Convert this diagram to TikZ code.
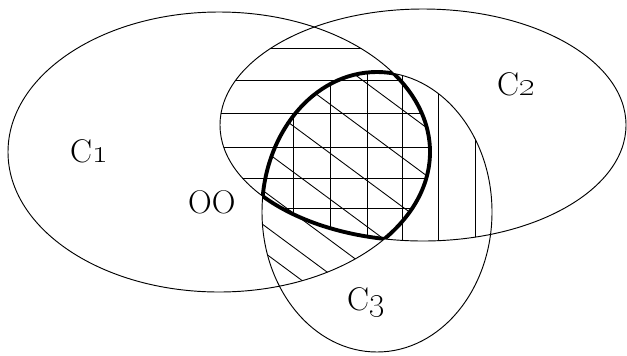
\documentclass[tikz,border=0pt]{standalone}
\usetikzlibrary{calc}
\definecolor{ink}{HTML}{000000}
\tikzset{
  set/.style={draw=ink, line width=0.8pt},
  hatch/.style={draw=ink, line width=0.75pt},
  core/.style={draw=ink, line width=3.3pt, line join=round},
  setlabel/.style={anchor=base west, inner sep=0pt, text=ink,
    font=\fontsize{28}{32}\selectfont}
}
\newcommand{\ellOne}{(219,152) ellipse [x radius=211, y radius=140]}
\newcommand{\ellTwo}{(423,125) ellipse [x radius=203, y radius=116]}
\newcommand{\ellThree}{(377,212) ellipse [x radius=115, y radius=140]}

\begin{document}
\begin{tikzpicture}[x=0.03cm, y=-0.03cm]
\useasboundingbox (0,0) rectangle (627,355);

% ---------------- Hatching ----------------
\begin{scope}
  \clip \ellOne; \clip \ellTwo;
  \foreach \y in {48,80,113,147,178,208}
    \draw[hatch] (200,\y) -- (460,\y);
\end{scope}
\begin{scope}
  \clip \ellTwo; \clip \ellThree;
  \foreach \x in {293,330,367,402,438,475}
    \draw[hatch] (\x,60) -- (\x,260);
\end{scope}
\begin{scope}
  \clip \ellOne; \clip \ellThree;
  \foreach \b in {34,82,131,177,218,252,279}
    \draw[hatch] (250,\b-37) -- (500,\b+148);
\end{scope}

% ---------------- Sets ----------------
\draw[set] \ellOne;
\draw[set] \ellTwo;
\draw[set] \ellThree;

% ---------------- Common part, thick ----------------
\begin{scope}
  \clip \ellOne; \clip \ellTwo;
  \draw[core] \ellThree;
\end{scope}
\begin{scope}
  \clip \ellTwo; \clip \ellThree;
  \draw[core] \ellOne;
\end{scope}
\begin{scope}
  \clip \ellOne; \clip \ellThree;
  \draw[core] \ellTwo;
\end{scope}

% ---------------- Labels ----------------
\node[setlabel] (cOne) at (70,162) {C\oldstylenums{1}};
\node[setlabel] (cTwo) at (497,95) {C\oldstylenums{2}};
\node[setlabel] (cThree) at (347,310) {C\oldstylenums{3}};
\node[setlabel] (oo) at (188,213) {OO};

\end{tikzpicture}
\end{document}
